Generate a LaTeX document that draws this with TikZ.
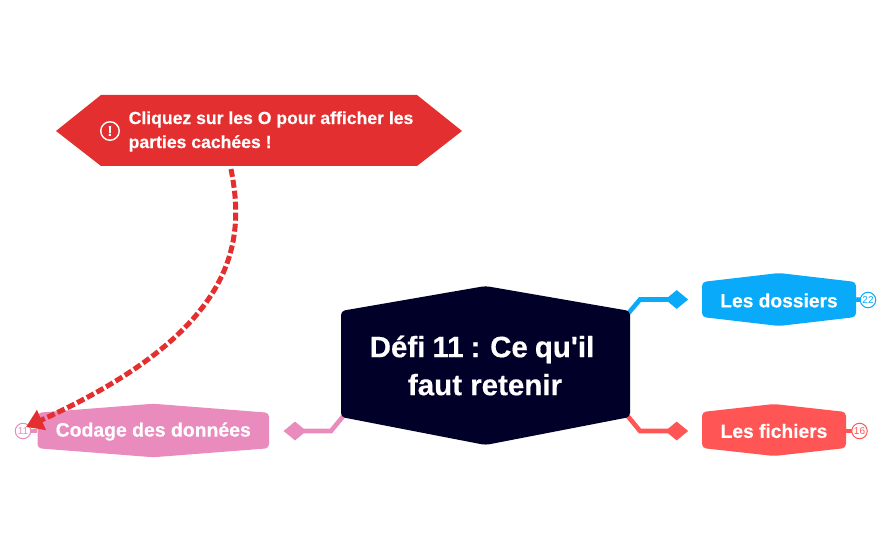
\documentclass[tikz,border=0pt]{standalone}
\usepackage{fontspec}
\setmainfont{Liberation Sans}
\newfontfamily\heavy[FakeBold=0.35]{Liberation Sans}
\usetikzlibrary{arrows.meta,shapes.geometric}
\definecolor{cNavy}{HTML}{000028}
\definecolor{cRed}{HTML}{E32F30}
\definecolor{cPink}{HTML}{E98BBD}
\definecolor{cBlue}{HTML}{09AAF9}
\definecolor{cCoral}{HTML}{FF5555}
\tikzset{
  boxtext/.style={text=white,inner sep=0pt,align=center},
  branch/.style={line width=4.6pt,line join=miter},
  tipmark/.style={diamond,draw=none,fill=#1,minimum width=23pt,minimum height=19pt,inner sep=0pt},
  countbubble/.style={circle,draw=#1,fill=white,text=#1,line width=1pt,minimum size=15.5pt,inner sep=0pt,font=\fontsize{10}{10}\selectfont},
  stub/.style={line width=4.6pt}
}
% name, cx, cy, w, h, rise, drop, colour, fontsize, text
\newcommand{\hexbox}[9]{%
  \fill[#7,rounded corners=4pt] (#2-#4/2,#3-#5/2) -- (#2,#3-#5/2-#6) -- (#2+#4/2,#3-#5/2) -- (#2+#4/2,#3+#5/2) -- (#2,#3+#5/2+#6) -- (#2-#4/2,#3+#5/2) -- cycle;
  \node[minimum width=#4 pt,minimum height=#5 pt,inner sep=0pt] (#1) at (#2,#3) {};
  \node[boxtext,font=\heavy\bfseries\fontsize{#8}{#8}\selectfont] at (#2,#3+1) {#9};
}
\begin{document}
\begin{tikzpicture}[x=1pt,y=-1pt]
\useasboundingbox (0,0) rectangle (893,553);
\node[tipmark=cBlue] (tipBlue) at (676.7,299.5) {};
\node[tipmark=cCoral] (tipCoral) at (676.7,431) {};
\node[tipmark=cPink] (tipPink) at (295,431) {};
\coordinate (bendBlue) at (640,299.5);
\coordinate (bendCoral) at (640,431);
\coordinate (bendPink) at (331,431);
\coordinate (hubNE) at (626,316);
\coordinate (hubSE) at (626,414);
\coordinate (hubSW) at (345,414);
\draw[branch,cBlue] (hubNE) -- (bendBlue) -- (tipBlue.center);
\draw[branch,cCoral] (hubSE) -- (bendCoral) -- (tipCoral.center);
\draw[branch,cPink] (hubSW) -- (bendPink) -- (tipPink.center);
% central node
\fill[cNavy,rounded corners=4pt] (341,311) -- (485.5,286) -- (630,311) -- (630,417) -- (485.5,445) -- (341,417) -- cycle;
\node[boxtext,font=\heavy\bfseries\fontsize{29.5}{38}\selectfont] (hub) at (485,365.5) {\spaceskip=7pt\relax Défi 11 : Ce qu'il\hspace*{6pt}\\faut retenir};
% branch boxes
\hexbox{dossiers}{779}{299.5}{154}{35}{9}{cBlue}{19.2}{Les dossiers}
\hexbox{fichiers}{774}{430}{144}{36}{8}{cCoral}{19.2}{Les fichiers}
\hexbox{codage}{153.25}{430.5}{231.5}{35.5}{9}{cPink}{19.4}{Codage des données}
% count bubbles
\draw[stub,cBlue] (dossiers.east) -- (868,300) coordinate (jBlue);
\draw[stub,cCoral] (fichiers.east |- 0,431) -- (859.5,431) coordinate (jCoral);
\draw[stub,cPink] (codage.west |- 0,431) -- (23,431) coordinate (jPink);
\node[countbubble=cBlue] (nBlue) at (jBlue) {22};
\node[countbubble=cCoral] (nCoral) at (jCoral) {16};
\node[countbubble=cPink] (nPink) at (jPink) {11};
% alert callout
\fill[cRed] (56,131) -- (101,95) -- (417,95) -- (462,131) -- (417,166) -- (101,166) -- cycle;
\node[circle,draw=white,line width=1.4pt,minimum size=18.5pt,inner sep=0pt,text=white,font=\heavy\bfseries\fontsize{14}{14}\selectfont] (alertIcon) at (110,131) {!};
\node[text=white,anchor=west,align=left,inner sep=0pt,font=\heavy\bfseries\fontsize{17.6}{24}\selectfont] (alert) at (128.5,131.5) {Cliquez sur les O pour afficher les\\parties cachées !};
% dashed arrow
\coordinate (arrowStart) at (231,169);
\coordinate (arrowEnd) at (26,427);
\draw[cRed,line width=5pt,dash pattern=on 8pt off 3pt,-{Triangle[length=17pt,width=21pt]}] (arrowStart) .. controls (245,240) and (240,330) .. (arrowEnd);
\end{tikzpicture}
\end{document}
